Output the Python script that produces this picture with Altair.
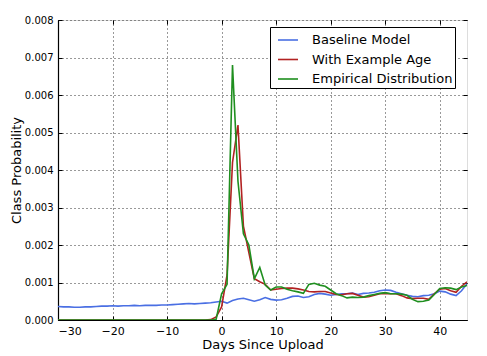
import altair as alt
import pandas as pd

days = list(range(-30, 46))

baseline = [0.00036, 0.00035, 0.00035, 0.00034, 0.00034, 0.00035, 0.00035, 0.00036, 0.00037, 0.00037,
            0.00038, 0.00037, 0.00038, 0.00038, 0.00039, 0.00038, 0.00039, 0.00039, 0.00039, 0.00040,
            0.00040, 0.00041, 0.00042, 0.00043, 0.00044, 0.00043, 0.00044, 0.00045, 0.00046, 0.00048,
            0.00050, 0.00045, 0.00052, 0.00056, 0.00058, 0.00054, 0.00050, 0.00054, 0.00060, 0.00055,
            0.00053, 0.00054, 0.00058, 0.00063, 0.00064, 0.00060, 0.00062, 0.00068, 0.00071, 0.00069,
            0.00066, 0.00068, 0.00070, 0.00070, 0.00072, 0.00068, 0.00071, 0.00072, 0.00074, 0.00078,
            0.00080, 0.00079, 0.00074, 0.00070, 0.00066, 0.00063, 0.00062, 0.00065, 0.00066, 0.00070,
            0.00077, 0.00075, 0.00069, 0.00065, 0.00078, 0.00097]

with_age = [0.0] * 28 + [
            0.00001, 0.00008,
            0.00035, 0.00120, 0.00420, 0.00520, 0.00250, 0.00180, 0.00110, 0.00102, 0.00095, 0.00080,
            0.00082, 0.00084, 0.00085, 0.00085, 0.00083, 0.00080, 0.00076, 0.00075, 0.00076, 0.00076,
            0.00072, 0.00068, 0.00067, 0.00070, 0.00071, 0.00066, 0.00061, 0.00062, 0.00066, 0.00070,
            0.00071, 0.00070, 0.00070, 0.00065, 0.00059, 0.00057, 0.00058, 0.00058, 0.00055, 0.00070,
            0.00082, 0.00084, 0.00078, 0.00074, 0.00090, 0.00102]

empirical = [0.0] * 29 + [
            0.00002,
            0.00070, 0.00095, 0.00680, 0.00370, 0.00230, 0.00200, 0.00110, 0.00140, 0.00093, 0.00080,
            0.00088, 0.00088, 0.00082, 0.00078, 0.00075, 0.00071, 0.00095, 0.00098, 0.00093, 0.00090,
            0.00080, 0.00070, 0.00065, 0.00059, 0.00061, 0.00060, 0.00061, 0.00065, 0.00068, 0.00071,
            0.00073, 0.00070, 0.00070, 0.00069, 0.00066, 0.00055, 0.00049, 0.00050, 0.00053, 0.00068,
            0.00084, 0.00086, 0.00085, 0.00081, 0.00088, 0.00092]

series_names = ["Baseline Model", "With Example Age", "Empirical Distribution"]
series_colors = ["#4a6fe3", "#b22222", "#1f8f1f"]
x_ticks = [-30, -20, -10, 0, 10, 20, 30, 40]
y_ticks = [0.000, 0.001, 0.002, 0.003, 0.004, 0.005, 0.006, 0.007, 0.008]

rows = []
for k, (name, vals) in enumerate(zip(series_names, [baseline, with_age, empirical])):
    for d, v in zip(days, vals):
        rows.append({"day": d, "value": v, "series": name, "order": k})
df = pd.DataFrame(rows)

font = "DejaVu Sans"
xscale = alt.Scale(domain=[-30, 45], nice=False, zero=False)
yscale = alt.Scale(domain=[0, 0.008], nice=False)

lines = alt.Chart(df).mark_line(strokeWidth=1.6, clip=True).encode(
    x=alt.X("day:Q", scale=xscale,
            axis=alt.Axis(title="Days Since Upload", values=x_ticks, format="d",
                          grid=True, gridColor="black", gridDash=[1, 3], gridWidth=1, gridOpacity=0.8,
                          domainColor="black", domainWidth=1.2, tickColor="black", tickSize=0,
                          labelPadding=5, labelFontSize=11, labelColor="black",
                          titleFontSize=13, titleFontWeight="normal", titleColor="black",
                          titlePadding=2, labelFont=font, titleFont=font)),
    y=alt.Y("value:Q", scale=yscale,
            axis=alt.Axis(title="Class Probability", values=y_ticks, format=".3f",
                          grid=True, gridColor="black", gridDash=[1, 3], gridWidth=1, gridOpacity=0.8,
                          domainColor="black", domainWidth=1.2, tickColor="black", tickSize=0,
                          labelPadding=5, labelFontSize=10, labelColor="black",
                          titleFontSize=13, titleFontWeight="normal", titleColor="black",
                          titlePadding=1, labelFont=font, titleFont=font)),
    color=alt.Color("series:N",
                    scale=alt.Scale(domain=series_names, range=series_colors),
                    legend=alt.Legend(title=None, orient="none", legendX=212, legendY=7,
                                      symbolType="stroke", symbolSize=400, symbolStrokeWidth=1.6,
                                      symbolOffset=5,
                                      labelFontSize=13, labelFont=font, labelColor="black",
                                      labelOffset=13,
                                      strokeColor="black", fillColor="white", padding=2,
                                      rowPadding=1.5, cornerRadius=0)),
    order=alt.Order("order:Q"),
)

ticks_tl = alt.Chart(df).mark_point(opacity=0).encode(
    x=alt.X("day:Q", scale=xscale, axis=alt.Axis(orient="top", offset=-4, tickSize=4, tickColor="black",
                                                  labels=False, domain=False, grid=False, title=None,
                                                  values=x_ticks)),
    y=alt.Y("value:Q", scale=yscale, axis=alt.Axis(orient="right", offset=-4, tickSize=4, tickColor="black",
                                                    labels=False, domain=False, grid=False, title=None,
                                                    values=y_ticks)),
)

ticks_br = alt.Chart(df).mark_point(opacity=0).encode(
    x=alt.X("day:Q", scale=xscale, axis=alt.Axis(orient="bottom", offset=-4, tickSize=4, tickColor="black",
                                                  labels=False, domain=False, grid=False, title=None,
                                                  values=x_ticks)),
    y=alt.Y("value:Q", scale=yscale, axis=alt.Axis(orient="left", offset=-4, tickSize=4, tickColor="black",
                                                    labels=False, domain=False, grid=False, title=None,
                                                    values=y_ticks)),
)

chart = alt.layer(lines, ticks_tl, ticks_br).resolve_axis(x="independent", y="independent").properties(
    width=409, height=300,
    autosize=alt.AutoSizeParams(type="none"),
    padding={"left": 50, "top": 12, "right": 12, "bottom": 36},
).configure_view(stroke="black", strokeWidth=1.2).configure(background="white")

chart.save("out.html", embed_options={"renderer": "svg", "actions": False})
